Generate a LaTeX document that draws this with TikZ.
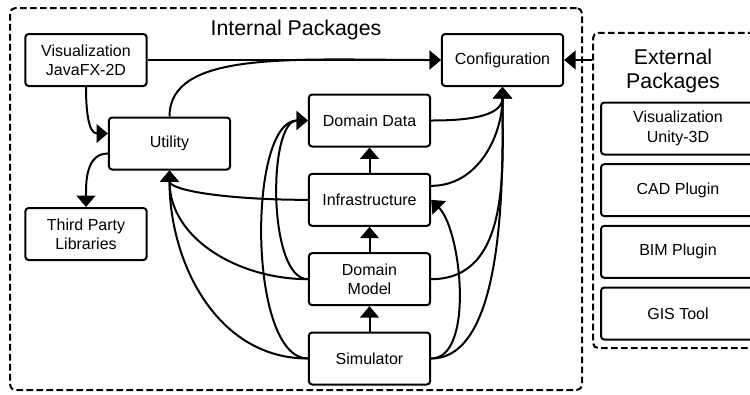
\documentclass[tikz,border=0pt]{standalone}
\usepackage{fontspec}
\setmainfont{Liberation Sans}
\usetikzlibrary{positioning, arrows.meta}

\begin{document}
\begin{tikzpicture}[
    x=0.75pt, y=0.75pt,
    pkg/.style={draw=black, line width=1.5pt, rectangle, rounded corners=2.5pt, minimum width=91pt, minimum height=39pt, align=center, font=\fontsize{12}{14.5}\selectfont},
    extpkg/.style={pkg, minimum width=115.5pt},
    grp/.style={draw=black, line width=1.5pt, dash pattern=on 5pt off 2.5pt, rounded corners=4pt, rectangle},
    grplabel/.style={align=center, font=\fontsize{16}{18}\selectfont},
    edge/.style={line width=1.5pt, -{Triangle[length=8.5pt,width=14pt]}}
  ]

  \useasboundingbox (0,0) rectangle (750,-394);

  % Gruppen
  \node[grp, minimum width=429pt, minimum height=286.5pt] (intgrp) at (296,-199) {};
  \node[grp, minimum width=132.75pt, minimum height=236.5pt] (extgrp) at (681.5,-190.5) {};
  \node[grplabel] (intlabel) at (296,-30) {Internal Packages};
  \node[grplabel] (extlabel) at (673,-71) {External\\Packages};

  % Knoten
  \node[pkg] (visfx) at (86,-60) {Visualization\\JavaFX-2D};
  \node[pkg, below=90pt of visfx] (thirdparty) {Third Party\\Libraries};
  \node[pkg] (utility) at (169.5,-143.5) {Utility};
  \node[pkg] (config) at (502.5,-60) {Configuration};
  \node[pkg] (domdata) at (369.5,-120.5) {Domain Data};
  \node[pkg, below=19pt of domdata] (infra) {Infrastructure};
  \node[pkg, below=19pt of infra] (dommodel) {Domain\\Model};
  \node[pkg, below=19pt of dommodel] (sim) {Simulator};

  \node[extpkg] (unity) at (678,-128.5) {Visualization\\Unity-3D};
  \node[extpkg, below=5.75pt of unity] (cad) {CAD Plugin};
  \node[extpkg, below=5.75pt of cad] (bim) {BIM Plugin};
  \node[extpkg, below=5.75pt of bim] (gis) {GIS Tool};

  % Kanten
  \draw[edge] (visfx) -- (config);
  \draw[edge] (utility.north) to[out=90, in=180, out distance=50pt, in distance=110pt] (config.west);
  \draw[edge] (visfx.south) to[out=-90, in=180] ([yshift=7.5pt]utility.west);
  \draw[edge] ([yshift=-7.5pt]utility.west) to[out=180, in=90] (thirdparty.north);
  \draw[edge] (infra.west) to[out=180, in=-90, out distance=60pt, in distance=15pt] (utility.south);
  \draw[edge] (dommodel.west) to[out=180, in=-90] (utility.south);
  \draw[edge] (sim.west) to[out=180, in=-90] (utility.south);
  \draw[edge] (sim.west) to[out=180, in=180, looseness=0.65] (domdata.west);
  \draw[edge] (dommodel.west) to[out=180, in=180, looseness=0.65] (domdata.west);
  \draw[edge] (infra) -- (domdata);
  \draw[edge] (dommodel) -- (infra);
  \draw[edge] (sim) -- (dommodel);
  \draw[edge] (domdata.east) to[out=0, in=-90] (config.south);
  \draw[edge] ([yshift=10.5pt]infra.east) to[out=0, in=-90] (config.south);
  \draw[edge] (dommodel.east) to[out=0, in=-90] (config.south);
  \draw[edge] (sim.east) to[out=0, in=-90, looseness=0.7] (config.south);
  \draw[edge] (sim.east) to[out=0, in=-45, looseness=0.7] (infra.east);
  \draw[edge] (extgrp.west |- config.east) -- (config.east);

\end{tikzpicture}
\end{document}
